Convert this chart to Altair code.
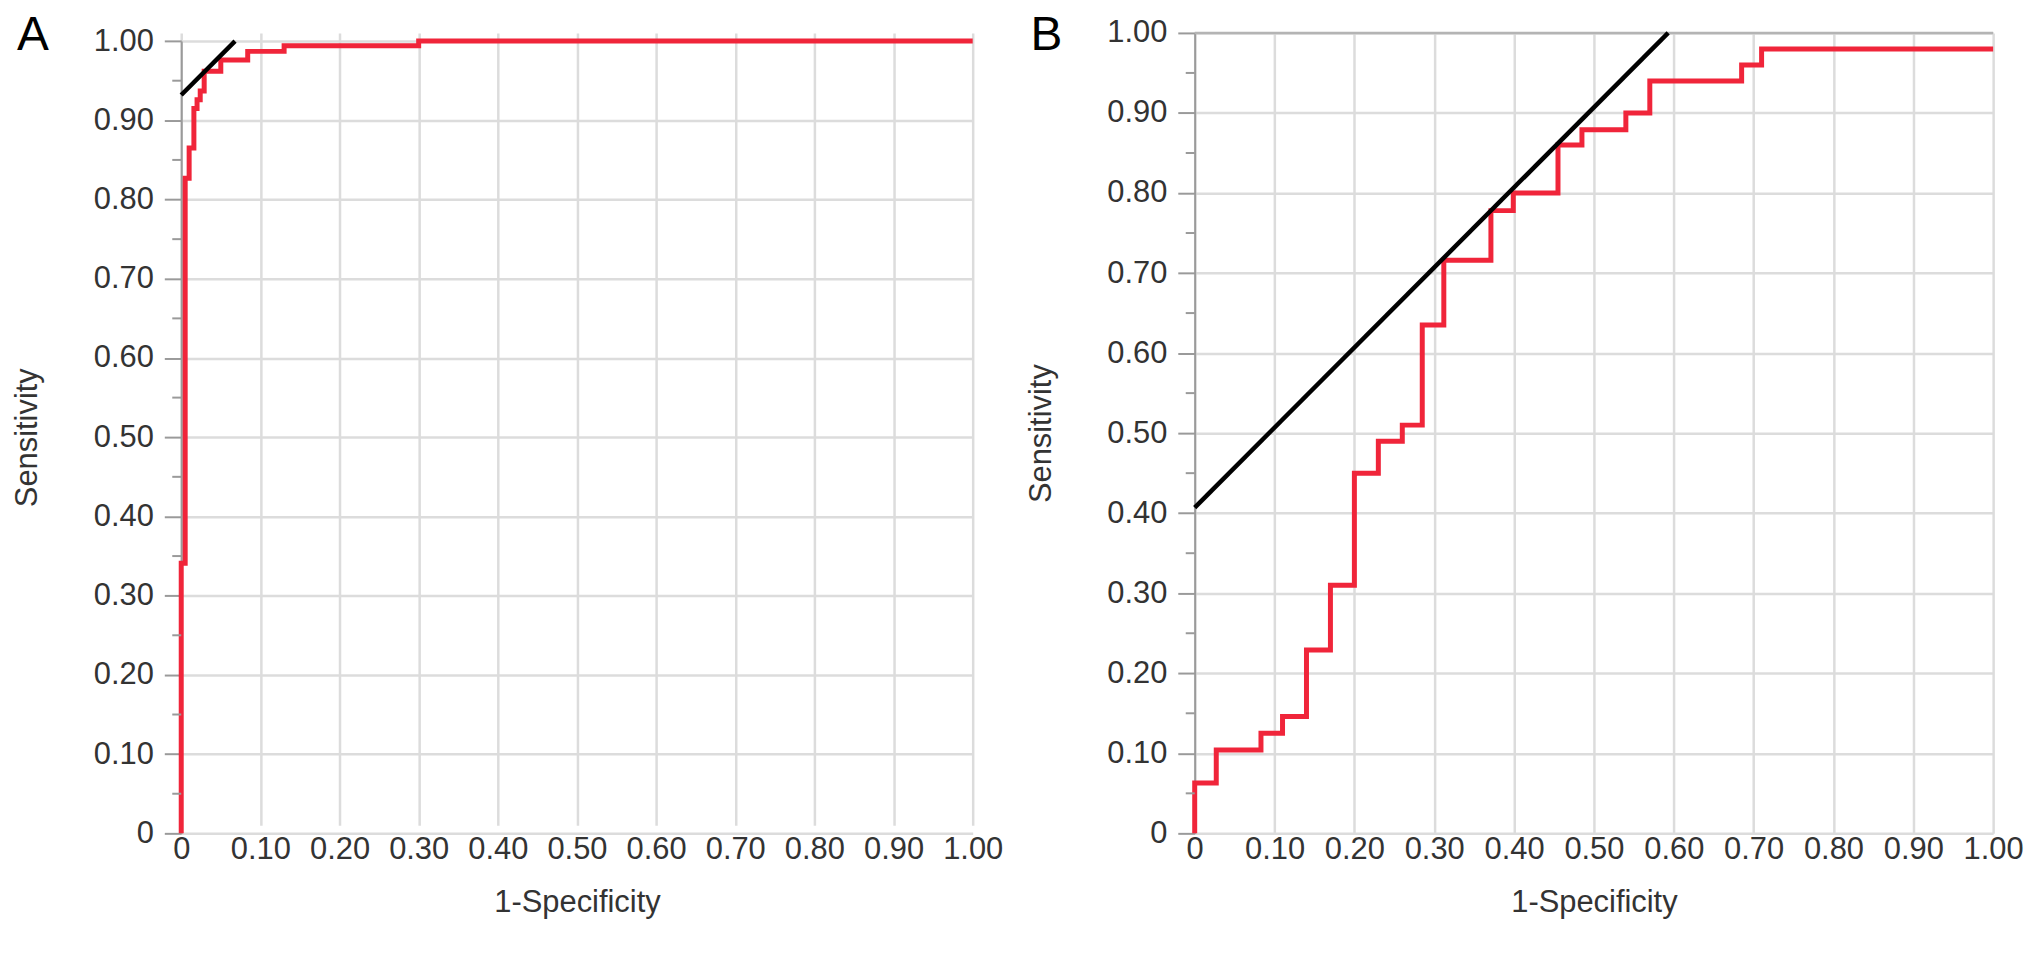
import altair as alt
import pandas as pd

# ---------------- data ----------------
# Panel A ROC curve (1-specificity, sensitivity) corner points
a_fpr = [0.0, 0.0, 0.005, 0.010, 0.016, 0.020, 0.024, 0.029, 0.050, 0.084, 0.130, 0.300, 1.0]
a_tpr = [0.0, 0.341, 0.827, 0.865, 0.915, 0.926, 0.937, 0.962, 0.976, 0.987, 0.994, 1.0, 1.0]
# Panel A tangent (Youden) line
a_ref_x = [0.0, 0.068]
a_ref_y = [0.932, 1.0]

# Panel B ROC curve
b_fpr = [0.0, 0.0, 0.027, 0.083, 0.110, 0.140, 0.170, 0.200, 0.230, 0.260, 0.285,
         0.312, 0.371, 0.399, 0.455, 0.485, 0.540, 0.570, 0.685, 0.710, 1.0]
b_tpr = [0.0, 0.063, 0.104, 0.125, 0.146, 0.229, 0.310, 0.450, 0.490, 0.510, 0.635,
         0.716, 0.778, 0.800, 0.860, 0.879, 0.900, 0.940, 0.960, 0.980, 0.980]
b_ref_x = [0.0, 0.593]
b_ref_y = [0.407, 1.0]

tick_values = [round(i * 0.1, 2) for i in range(11)]
minor_values = [round(0.05 + i * 0.1, 2) for i in range(10)]

RED = "#f0253a"
GRID = "#dcdcdc"
AXIS = "#9a9a9a"
FONT = "Liberation Sans"
LABEL_EXPR = "datum.value == 0 ? '0' : format(datum.value, '.2f')"

H = 804   # full panel height (B's plot area)


def panel(fpr, tpr, rx, ry, letter, w, y_top, top_line):
    roc = pd.DataFrame({"x": fpr, "y": tpr, "o": list(range(len(fpr)))})
    ref = pd.DataFrame({"x": rx, "y": ry})
    minor = pd.DataFrame({"y": minor_values})
    lab = pd.DataFrame({"t": [letter]})

    xs = alt.Scale(domain=[0, 1], nice=False, zero=False)
    ys = alt.Scale(domain=[0, 1], nice=False, zero=False, range=[H, y_top])

    xaxis = alt.Axis(values=tick_values, labelExpr=LABEL_EXPR, title="1-Specificity",
                     grid=True, gridColor=GRID, gridWidth=2.5, ticks=False, domain=False,
                     labelFontSize=31, labelFont=FONT, labelColor="#333333", labelPadding=1,
                     titleFontSize=31, titleFont=FONT, titleFontWeight="normal",
                     titleColor="#333333", titlePadding=23, labelFlush=False)
    yaxis = alt.Axis(values=tick_values, labelExpr=LABEL_EXPR, title="Sensitivity",
                     grid=True, gridColor=GRID, gridWidth=2.5, ticks=True, tickSize=17,
                     tickColor=AXIS, tickWidth=2, domain=True, domainColor=AXIS, domainWidth=2,
                     labelFontSize=31, labelFont=FONT, labelColor="#333333", labelPadding=11,
                     titleFontSize=31, titleFont=FONT, titleFontWeight="normal",
                     titleColor="#333333", titlePadding=50, labelFlush=False)

    layers = []
    if top_line:
        top = pd.DataFrame({"y": [1.0]})
        layers.append(alt.Chart(top).mark_rule(color="#b4b4b4", strokeWidth=2.5).encode(
            y=alt.Y("y:Q", scale=ys, axis=yaxis), x=alt.value(0), x2=alt.value(w)))
    curve = alt.Chart(roc).mark_line(interpolate="step-after", color=RED, strokeWidth=5).encode(
        x=alt.X("x:Q", scale=xs, axis=xaxis),
        y=alt.Y("y:Q", scale=ys, axis=yaxis),
        order="o:Q",
    )
    refline = alt.Chart(ref).mark_line(color="black", strokeWidth=4.5).encode(
        x=alt.X("x:Q", scale=xs, axis=xaxis), y=alt.Y("y:Q", scale=ys, axis=yaxis)
    )
    minors = alt.Chart(minor).mark_rule(color=AXIS, strokeWidth=2).encode(
        y=alt.Y("y:Q", scale=ys, axis=yaxis), x=alt.value(-9), x2=alt.value(0)
    )
    letter_mark = alt.Chart(lab).mark_text(
        fontSize=48, font=FONT, align="left", baseline="alphabetic", color="black"
    ).encode(text="t:N", x=alt.value(-165), y=alt.value(17.5))

    layers += [curve, refline, minors, letter_mark]
    return alt.layer(*layers).properties(width=w, height=H)


pa = panel(a_fpr, a_tpr, a_ref_x, a_ref_y, "A", 795, 8.2, False)
pb = panel(b_fpr, b_tpr, b_ref_x, b_ref_y, "B", 802, 0, True)

chart = alt.hconcat(pa, pb, spacing=21).properties(
    padding={"left": 3, "top": 2, "right": 0, "bottom": 0},
    background="white",
).configure_view(stroke=None)

chart.save("out.html", embed_options={"renderer": "svg", "actions": False})
